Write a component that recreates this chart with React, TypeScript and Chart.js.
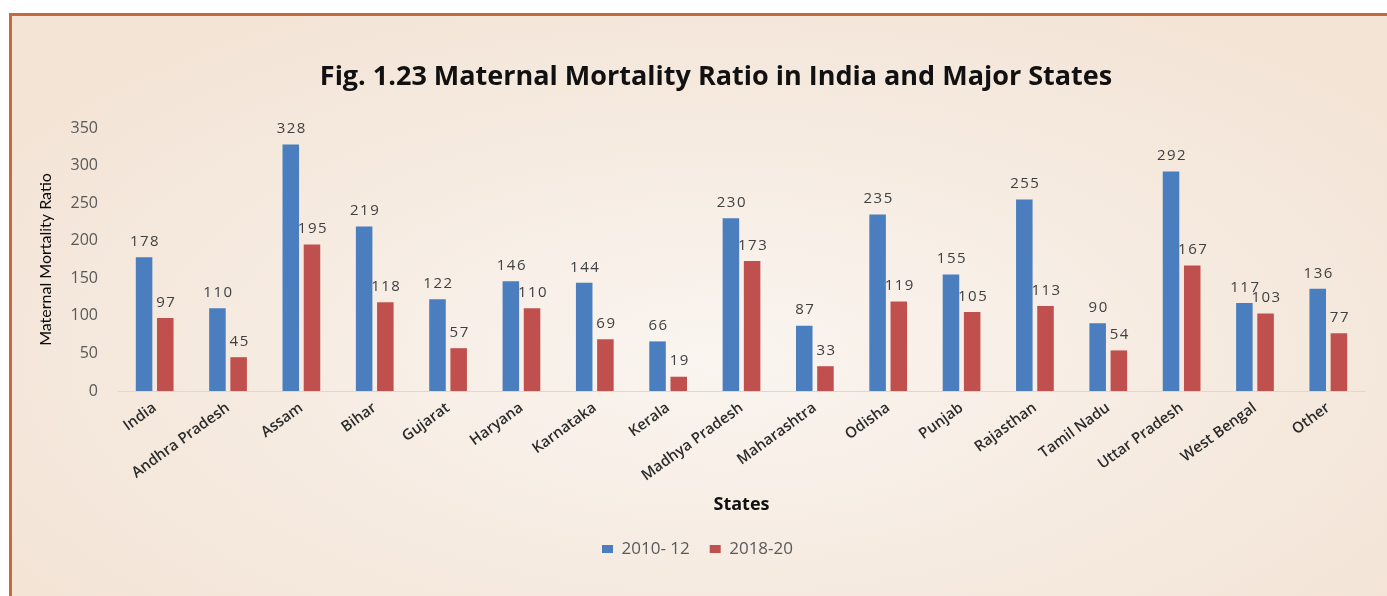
import React, { useEffect, useRef } from "react";
import { Chart, registerables } from "chart.js";

Chart.register(...registerables);

const categories = [
  "India", "Andhra Pradesh", "Assam", "Bihar", "Gujarat", "Haryana", "Karnataka",
  "Kerala", "Madhya Pradesh", "Maharashtra", "Odisha", "Punjab", "Rajasthan",
  "Tamil Nadu", "Uttar Pradesh", "West Bengal", "Other",
];
const series2010 = [178, 110, 328, 219, 122, 146, 144, 66, 230, 87, 235, 155, 255, 90, 292, 117, 136];
const series2018 = [97, 45, 195, 118, 57, 110, 69, 19, 173, 33, 119, 105, 113, 54, 167, 103, 77];
const seriesLabels = ["2010- 12", "2018-20"];
const yTicks = [0, 50, 100, 150, 200, 250, 300, 350];

const BLUE = "#4a7ebf";
const RED = "#c0504d";
const FONT = "'Open Sans', 'Liberation Sans', sans-serif";

const dataLabelPlugin = {
  id: "dataLabels",
  afterDatasetsDraw(chart: any) {
    const ctx = chart.ctx;
    ctx.save();
    ctx.font = `15px ${FONT}`;
    ctx.fillStyle = "#404040";
    ctx.textAlign = "center";
    ctx.textBaseline = "middle";
    try { (ctx as any).letterSpacing = "1.5px"; } catch (e) {}
    chart.data.datasets.forEach((ds: any, i: number) => {
      const meta = chart.getDatasetMeta(i);
      meta.data.forEach((bar: any, j: number) => {
        ctx.fillText(String(ds.data[j]), bar.x + 1, bar.y - 15.5);
      });
    });
    ctx.restore();
  },
};

const placePlugin = {
  id: "placeBoxes",
  afterLayout(chart: any) {
    const t = chart.titleBlock;
    if (t) {
      const dx = 716 - (t.left + t.right) / 2;
      t.left += dx;
      t.right += dx;
    }
    const lg = chart.legend;
    if (lg && lg.lineWidths) {
      const pad = lg.options.labels.padding;
      const lw = lg.lineWidths[0];
      const cur = (lg.left + pad + lg.right - lw) / 2;
      const dx = 602 - cur;
      lg.left += dx;
      lg.right += dx;
      const fs = lg.options.labels.font.size;
      const curY = lg.top + pad + fs / 2;
      const dy = 549 - curY;
      lg.top += dy;
      lg.bottom += dy;
    }
  },
};

export default function App() {
  const ref = useRef<HTMLCanvasElement | null>(null);
  useEffect(() => {
    if (!ref.current) return;
    const chart = new Chart(ref.current, {
      type: "bar",
      data: {
        labels: categories,
        datasets: [
          {
            label: seriesLabels[0],
            data: series2010,
            backgroundColor: BLUE,
            categoryPercentage: 0.578,
            barPercentage: 0.78,
          },
          {
            label: seriesLabels[1],
            data: series2018,
            backgroundColor: RED,
            categoryPercentage: 0.578,
            barPercentage: 0.78,
          },
        ],
      },
      options: {
        responsive: false,
        animation: false,
        layout: { padding: { left: 24, right: 22, top: 0, bottom: 0 } },
        plugins: {
          title: {
            display: true,
            text: "Fig. 1.23 Maternal Mortality Ratio in India and Major States",
            color: "#111111",
            font: { family: FONT, size: 27, weight: "bold" },
            padding: { top: 60.8, bottom: 34.8 },
          },
          legend: {
            display: true,
            position: "bottom",
            labels: {
              boxWidth: 11,
              boxHeight: 8,
              padding: 20,
              color: "#595959",
              font: { family: FONT, size: 17 },
            },
          },
          tooltip: { enabled: false },
        },
        scales: {
          x: {
            grid: { display: false, drawTicks: false },
            border: { display: true, color: "#d9d9d9", width: 1 },
            ticks: {
              color: "#2b2b2b",
              font: { family: FONT, size: 15, weight: "600" },
              minRotation: 36,
              maxRotation: 36,
              padding: 8,
              autoSkip: false,
            },
            title: {
              display: true,
              text: "States",
              color: "#111111",
              font: { family: FONT, size: 18, weight: "bold" },
              padding: { top: 0, bottom: 33.2 },
            },
            afterFit(scale: any) {
              scale.height = 158;
            },
          },
          y: {
            min: 0,
            max: 350,
            afterBuildTicks(scale: any) {
              scale.ticks = yTicks.map((v) => ({ value: v }));
            },
            grid: { display: false, drawTicks: false },
            border: { display: false },
            ticks: {
              color: "#595959",
              font: { family: FONT, size: 16 },
              padding: 20,
            },
            title: {
              display: true,
              text: "Maternal Mortality Ratio",
              color: "#0a0a0a",
              font: { family: "Lato, 'DejaVu Sans Condensed', sans-serif", size: 16 },
              padding: { top: 12.5, bottom: 0 },
            },
            afterFit(scale: any) {
              scale.width = 94;
            },
          },
        },
      },
      plugins: [dataLabelPlugin, placePlugin],
    });
    return () => chart.destroy();
  }, []);

  return (
    <div style={{ position: "fixed", left: 0, top: 0, width: 1387, height: 596, background: "#ffffff", overflow: "hidden" }}>
      <div
        style={{
          position: "absolute",
          left: 9,
          top: 13,
          width: 1420,
          height: 620,
          borderLeft: "3px solid #c36b3c",
          borderTop: "3px solid #c36b3c",
          background: "radial-gradient(ellipse 60% 65% at 50% 55%, #faf5f0 0%, #f6ebe1 55%, #f3e4d6 100%)",
        }}
      />
      <canvas ref={ref} width={1387} height={596} style={{ position: "absolute", left: 0, top: 0, width: 1387, height: 596 }} />
    </div>
  );
}
